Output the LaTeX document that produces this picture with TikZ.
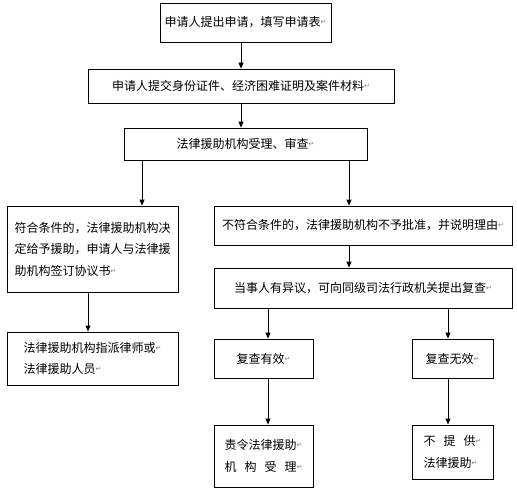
\documentclass[tikz,border=0pt]{standalone}
\usepackage{fontspec}
\setmainfont{Noto Sans CJK SC}
\newfontfamily\symfont{DejaVu Sans}
\usetikzlibrary{arrows.meta}
\newcommand\ret{\raisebox{2pt}{\symfont\color{gray}\fontsize{7}{7}\selectfont ↵}}
\newcommand\gp{\hspace{8pt}}
\begin{document}
\begin{tikzpicture}[x=1pt,y=-1pt,
  box/.style={draw,line width=0.8pt,inner sep=0pt,font=\fontsize{12}{21.5}\selectfont},
  arr/.style={-{Triangle[length=6pt,width=5pt]},line width=0.8pt}]
\useasboundingbox (0,0) rectangle (517,503);
\node[box,minimum width=171,minimum height=39] (b1) at (245.5,22.5) {申请人提出申请，填写申请表\ret};
\node[box,minimum width=306,minimum height=34] (b2) at (241,86) {申请人提交身份证件、经济困难证明及案件材料\ret};
\node[box,minimum width=243,minimum height=32] (b3) at (245.5,144) {法律援助机构受理、审查\ret};
\node[box,minimum width=171,minimum height=86,align=left] (l1) at (92.5,249) {符合条件的，法律援助机构决\\定给予援助，申请人与法律援\\助机构签订协议书\ret};
\node[box,minimum width=298,minimum height=39] (r1) at (363,225.5) {不符合条件的，法律援助机构不予批准，并说明理由\ret};
\node[box,minimum width=298,minimum height=40] (r2) at (363,288) {当事人有异议，可向同级司法行政机关提出复查\ret};
\node[box,minimum width=171,minimum height=53,align=left] (l2) at (92.5,358.5) {法律援助机构指派律师或\ret\\法律援助人员\ret};
\node[box,minimum width=99,minimum height=39] (r3a) at (263.5,358.5) {复查有效\ret};
\node[box,minimum width=81,minimum height=39] (r3b) at (452.5,358.5) {复查无效\ret};
\node[box,minimum width=99,minimum height=62,align=left] (r4a) at (263.5,456) {责令法律援助\ret\\机\gp 构\gp 受\gp 理\ret};
\node[box,minimum width=81,minimum height=54,align=left] (r4b) at (452.5,452) {不\gp 提\gp 供\ret\\法律援助\ret};
\coordinate (xa) at (241,0);
\coordinate (xl) at (142,0);
\coordinate (xr) at (349,0);
\coordinate (xll) at (88,0);
\coordinate (xra) at (268,0);
\coordinate (xrb) at (448,0);
\draw[arr] (b1.south -| xa) -- (b2.north -| xa);
\draw[arr] (b2.south -| xa) -- (b3.north -| xa);
\draw[arr] (b3.south -| xl) -- (l1.north -| xl);
\draw[arr] (b3.south -| xr) -- (r1.north -| xr);
\draw[arr] (r1.south -| xr) -- (r2.north -| xr);
\draw[arr] (l1.south -| xll) -- (l2.north -| xll);
\draw[arr] (r2.south -| xra) -- (r3a.north -| xra);
\draw[arr] (r2.south -| xrb) -- (r3b.north -| xrb);
\draw[arr] (r3a.south -| xra) -- (r4a.north -| xra);
\draw[arr] (r3b.south -| xrb) -- (r4b.north -| xrb);
\end{tikzpicture}
\end{document}
